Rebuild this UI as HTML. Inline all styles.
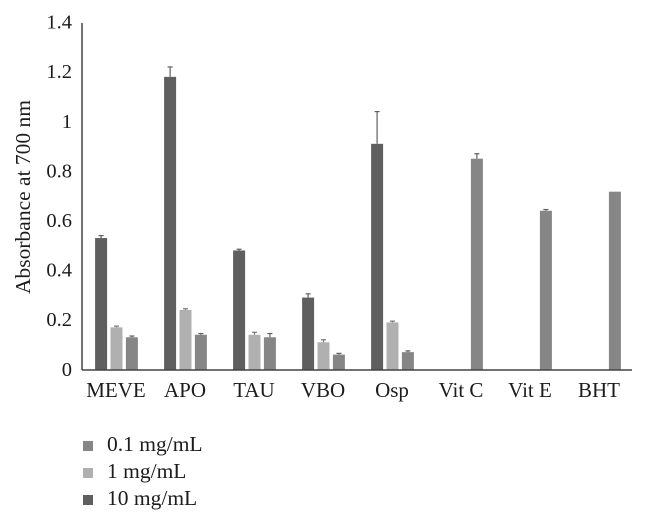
<!DOCTYPE html>
<html>
<head>
<meta charset="utf-8">
<style>
html,body{margin:0;padding:0;background:#fff;}
svg{display:block;font-family:"Liberation Serif",serif;fill:#1c1c1c;}
</style>
</head>
<body>
<svg id="chart" width="646" height="524" viewBox="0 0 646 524" xmlns="http://www.w3.org/2000/svg">
<rect width="646" height="524" fill="#ffffff"/>
<g id="bars"></g>
<g id="yticks"></g>
<g id="xticks"></g>
<line x1="82" y1="23" x2="82" y2="370" stroke="#444444" stroke-width="1.5"/>
<line x1="82" y1="370" x2="632" y2="370" stroke="#444444" stroke-width="1.5"/>
<text transform="translate(30,197) rotate(-90)" text-anchor="middle" font-size="21.5">Absorbance at 700 nm</text>
<g id="legend"></g>
</svg>
<script>
const categories = ["MEVE", "APO", "TAU", "VBO", "Osp", "Vit C", "Vit E", "BHT"];
const yTickLabels = ["0", "0.2", "0.4", "0.6", "0.8", "1", "1.2", "1.4"];
const yTickValues = [0, 0.2, 0.4, 0.6, 0.8, 1, 1.2, 1.4];
const seriesNames = ["10 mg/mL", "1 mg/mL", "0.1 mg/mL"];
const values10 = [0.53, 1.18, 0.48, 0.29, 0.91, null, null, null];
const errorTop10 = [0.54, 1.22, 0.485, 0.305, 1.04, null, null, null];
const values1 = [0.17, 0.24, 0.14, 0.11, 0.19, null, null, null];
const errorTop1 = [0.175, 0.245, 0.15, 0.12, 0.195, null, null, null];
const values01 = [0.13, 0.14, 0.13, 0.06, 0.07, 0.85, 0.64, 0.717];
const errorTop01 = [0.135, 0.145, 0.145, 0.065, 0.075, 0.87, 0.645, 0.717];
const legendOrder = ["0.1 mg/mL", "1 mg/mL", "10 mg/mL"];

const NS = "http://www.w3.org/2000/svg";
const colors = {"10 mg/mL": "#5f5f5f", "1 mg/mL": "#b0b0b0", "0.1 mg/mL": "#868686"};
const errColors = {"10 mg/mL": "#5f5f5f", "1 mg/mL": "#777777", "0.1 mg/mL": "#5f5f5f"};
const seriesValues = [values10, values1, values01];
const seriesErrors = [errorTop10, errorTop1, errorTop01];

function yScale(v) { return 369.5 - v * 248; }
function xCenter(i) { return 116.5 + i * 69; }
function seriesOffset(s) { return (s - 1) * 15.4; }
function make(tag, attrs, parent) {
  const el = document.createElementNS(NS, tag);
  for (const k in attrs) el.setAttribute(k, attrs[k]);
  parent.appendChild(el);
  return el;
}
function slug(t) { return t.toLowerCase().replace(/[^a-z0-9]+/g, "-"); }

const barsG = document.getElementById("bars");
seriesValues.forEach(function (vals, s) {
  vals.forEach(function (v, i) {
    if (v === null) return;
    const cx = xCenter(i) + seriesOffset(s);
    const top = yScale(v);
    const name = seriesNames[s];
    const bar = make("rect", {x: cx - 6, y: top, width: 12, height: 369.5 - top, fill: colors[name]}, barsG);
    
    
    const e = seriesErrors[s][i];
    if (e !== null && e > v) {
      const ey = yScale(e);
      const stem = make("line", {x1: cx, x2: cx, y1: top, y2: ey, stroke: errColors[name], "stroke-width": 1.2}, barsG);
      
      
      const cap = make("line", {x1: cx - 2.5, x2: cx + 2.5, y1: ey, y2: ey, stroke: errColors[name], "stroke-width": 1.2}, barsG);
      
      
    }
  });
});

const yG = document.getElementById("yticks");
yTickValues.forEach(function (v, i) {
  const t = make("text", {x: 72, y: yScale(v) + 6.3, "text-anchor": "end", "font-size": 20.5}, yG);
  
  
  t.textContent = yTickLabels[i];
});

const xG = document.getElementById("xticks");
categories.forEach(function (c, i) {
  const t = make("text", {x: xCenter(i) - 0.5, y: 397, "text-anchor": "middle", "font-size": 21}, xG);
  
  
  t.textContent = c;
});

const legG = document.getElementById("legend");
legendOrder.forEach(function (name, i) {
  const baseY = 451 + i * 27;
  const sw = make("rect", {x: 83, y: baseY - 10, width: 10, height: 10, fill: colors[name]}, legG);
  
  
  const t = make("text", {x: 107, y: baseY, "font-size": 21.5}, legG);
  
  
  t.textContent = name;
});
</script>
</body>
</html>
